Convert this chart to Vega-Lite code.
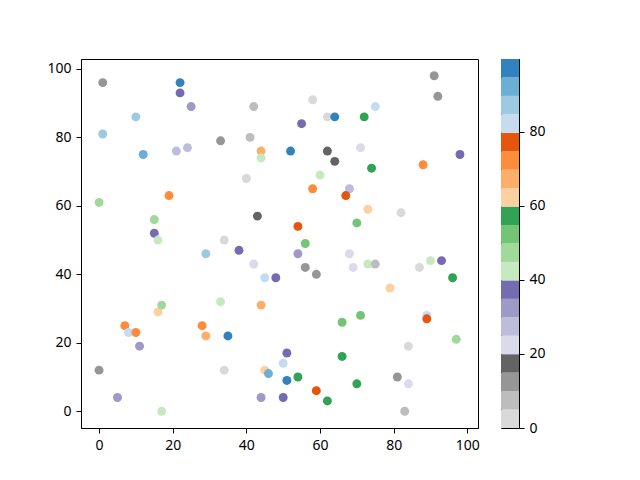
{
  "$schema": "https://vega.github.io/schema/vega-lite/v6.json",
  "padding": {"left": 40, "top": 58, "right": 0, "bottom": 0},
  "spacing": 20,
  "config": {
    "view": {"stroke": "black", "strokeWidth": 1},
    "font": "Noto Sans",
    "axis": {
      "grid": false,
      "domainColor": "black",
      "tickColor": "black",
      "labelColor": "black",
      "tickSize": 5,
      "labelPadding": 5,
      "labelFontSize": 14,
      "labelFont": "Noto Sans",
      "title": null
    }
  },
  "datasets": {
    "points": [
      {"x": 1, "y": 96, "c": 12}, {"x": 22, "y": 96, "c": 97}, {"x": 22, "y": 93, "c": 37},
      {"x": 25, "y": 89, "c": 32}, {"x": 42, "y": 89, "c": 7}, {"x": 10, "y": 86, "c": 87},
      {"x": 1, "y": 81, "c": 87}, {"x": 41, "y": 80, "c": 7}, {"x": 33, "y": 79, "c": 12},
      {"x": 44, "y": 76, "c": 67}, {"x": 44, "y": 74, "c": 42}, {"x": 12, "y": 75, "c": 92},
      {"x": 21, "y": 76, "c": 27}, {"x": 24, "y": 77, "c": 27}, {"x": 40, "y": 68, "c": 2},
      {"x": 19, "y": 63, "c": 72}, {"x": 0, "y": 61, "c": 47}, {"x": 15, "y": 56, "c": 47},
      {"x": 43, "y": 57, "c": 17}, {"x": 15, "y": 52, "c": 37}, {"x": 16, "y": 50, "c": 42},
      {"x": 34, "y": 50, "c": 2}, {"x": 91, "y": 98, "c": 12}, {"x": 92, "y": 92, "c": 12},
      {"x": 58, "y": 91, "c": 2}, {"x": 75, "y": 89, "c": 82}, {"x": 62, "y": 86, "c": 2},
      {"x": 64, "y": 86, "c": 97}, {"x": 72, "y": 86, "c": 57}, {"x": 55, "y": 84, "c": 37},
      {"x": 52, "y": 76, "c": 97}, {"x": 62, "y": 76, "c": 17}, {"x": 64, "y": 73, "c": 17},
      {"x": 71, "y": 77, "c": 22}, {"x": 98, "y": 75, "c": 37}, {"x": 74, "y": 71, "c": 57},
      {"x": 88, "y": 72, "c": 72}, {"x": 60, "y": 69, "c": 42}, {"x": 58, "y": 65, "c": 72},
      {"x": 68, "y": 65, "c": 27}, {"x": 67, "y": 63, "c": 77}, {"x": 73, "y": 59, "c": 62},
      {"x": 82, "y": 58, "c": 2}, {"x": 54, "y": 54, "c": 77}, {"x": 70, "y": 55, "c": 52},
      {"x": 56, "y": 49, "c": 52}, {"x": 29, "y": 46, "c": 87}, {"x": 38, "y": 47, "c": 37},
      {"x": 42, "y": 43, "c": 22}, {"x": 45, "y": 39, "c": 82}, {"x": 48, "y": 39, "c": 37},
      {"x": 16, "y": 29, "c": 62}, {"x": 17, "y": 31, "c": 47}, {"x": 33, "y": 32, "c": 42},
      {"x": 44, "y": 31, "c": 67}, {"x": 7, "y": 25, "c": 72}, {"x": 8, "y": 23, "c": 82},
      {"x": 10, "y": 23, "c": 72}, {"x": 11, "y": 19, "c": 32}, {"x": 28, "y": 25, "c": 72},
      {"x": 29, "y": 22, "c": 67}, {"x": 35, "y": 22, "c": 97}, {"x": 0, "y": 12, "c": 12},
      {"x": 34, "y": 12, "c": 2}, {"x": 45, "y": 12, "c": 62}, {"x": 46, "y": 11, "c": 92},
      {"x": 50, "y": 14, "c": 82}, {"x": 5, "y": 4, "c": 32}, {"x": 17, "y": 0, "c": 42},
      {"x": 44, "y": 4, "c": 32}, {"x": 50, "y": 4, "c": 37}, {"x": 54, "y": 46, "c": 32},
      {"x": 68, "y": 46, "c": 22}, {"x": 56, "y": 42, "c": 12}, {"x": 59, "y": 40, "c": 12},
      {"x": 69, "y": 42, "c": 22}, {"x": 73, "y": 43, "c": 42}, {"x": 75, "y": 43, "c": 7},
      {"x": 87, "y": 42, "c": 2}, {"x": 90, "y": 44, "c": 42}, {"x": 93, "y": 44, "c": 37},
      {"x": 96, "y": 39, "c": 57}, {"x": 79, "y": 36, "c": 62}, {"x": 66, "y": 26, "c": 52},
      {"x": 71, "y": 28, "c": 52}, {"x": 89, "y": 28, "c": 82}, {"x": 89, "y": 27, "c": 77},
      {"x": 97, "y": 21, "c": 47}, {"x": 84, "y": 19, "c": 2}, {"x": 66, "y": 16, "c": 57},
      {"x": 51, "y": 17, "c": 37}, {"x": 51, "y": 9, "c": 97}, {"x": 54, "y": 10, "c": 57},
      {"x": 59, "y": 6, "c": 77}, {"x": 62, "y": 3, "c": 57}, {"x": 70, "y": 8, "c": 57},
      {"x": 81, "y": 10, "c": 12}, {"x": 84, "y": 8, "c": 22}, {"x": 83, "y": 0, "c": 7}
    ],
    "colorbar": [
      {"lo": 0, "hi": 4.98, "c": 2.5}, {"lo": 4.98, "hi": 9.96, "c": 7.5},
      {"lo": 9.96, "hi": 14.94, "c": 12.5}, {"lo": 14.94, "hi": 19.92, "c": 17.5},
      {"lo": 19.92, "hi": 24.9, "c": 22.5}, {"lo": 24.9, "hi": 29.88, "c": 27.5},
      {"lo": 29.88, "hi": 34.86, "c": 32.5}, {"lo": 34.86, "hi": 39.84, "c": 37.5},
      {"lo": 39.84, "hi": 44.82, "c": 42.5}, {"lo": 44.82, "hi": 49.8, "c": 47.5},
      {"lo": 49.8, "hi": 54.78, "c": 52.5}, {"lo": 54.78, "hi": 59.76, "c": 57.5},
      {"lo": 59.76, "hi": 64.74, "c": 62.5}, {"lo": 64.74, "hi": 69.72, "c": 67.5},
      {"lo": 69.72, "hi": 74.7, "c": 72.5}, {"lo": 74.7, "hi": 79.68, "c": 77.5},
      {"lo": 79.68, "hi": 84.66, "c": 82.5}, {"lo": 84.66, "hi": 89.64, "c": 87.5},
      {"lo": 89.64, "hi": 94.62, "c": 92.5}, {"lo": 94.62, "hi": 99.6, "c": 97.5}
    ]
  },
  "hconcat": [
    {
      "width": 397,
      "height": 369,
      "data": {"name": "points"},
      "mark": {"type": "circle", "size": 80, "opacity": 1},
      "encoding": {
        "x": {
          "field": "x",
          "type": "quantitative",
          "scale": {"domain": [-4.9, 102.9], "nice": false, "zero": false},
          "axis": {"values": [0, 20, 40, 60, 80, 100]}
        },
        "y": {
          "field": "y",
          "type": "quantitative",
          "scale": {"domain": [-4.9, 102.9], "nice": false, "zero": false},
          "axis": {"values": [0, 20, 40, 60, 80, 100], "minExtent": 40, "maxExtent": 40}
        },
        "color": {
          "field": "c",
          "type": "quantitative",
          "legend": null,
          "scale": {
            "type": "quantize",
            "domain": [0, 99.6],
            "range": ["#d9d9d9", "#bdbdbd", "#969696", "#636363", "#dadaeb", "#bcbddc", "#9e9ac8", "#756bb1", "#c7e9c0", "#a1d99b", "#74c476", "#31a354", "#fdd0a2", "#fdae6b", "#fd8d3c", "#e6550d", "#c6dbef", "#9ecae1", "#6baed6", "#3182bd"]
          }
        }
      }
    },
    {
      "width": 18,
      "height": 369,
      "data": {"name": "colorbar"},
      "mark": {"type": "rect"},
      "encoding": {
        "y": {
          "field": "lo",
          "type": "quantitative",
          "scale": {"domain": [0, 99.6], "nice": false, "zero": false},
          "axis": {"orient": "right", "values": [0, 20, 40, 60, 80]}
        },
        "y2": {"field": "hi"},
        "color": {
          "field": "c",
          "type": "quantitative",
          "legend": null,
          "scale": {
            "type": "quantize",
            "domain": [0, 99.6],
            "range": ["#d9d9d9", "#bdbdbd", "#969696", "#636363", "#dadaeb", "#bcbddc", "#9e9ac8", "#756bb1", "#c7e9c0", "#a1d99b", "#74c476", "#31a354", "#fdd0a2", "#fdae6b", "#fd8d3c", "#e6550d", "#c6dbef", "#9ecae1", "#6baed6", "#3182bd"]
          }
        }
      }
    }
  ],
  "resolve": {"scale": {"y": "independent", "color": "independent"}}
}
